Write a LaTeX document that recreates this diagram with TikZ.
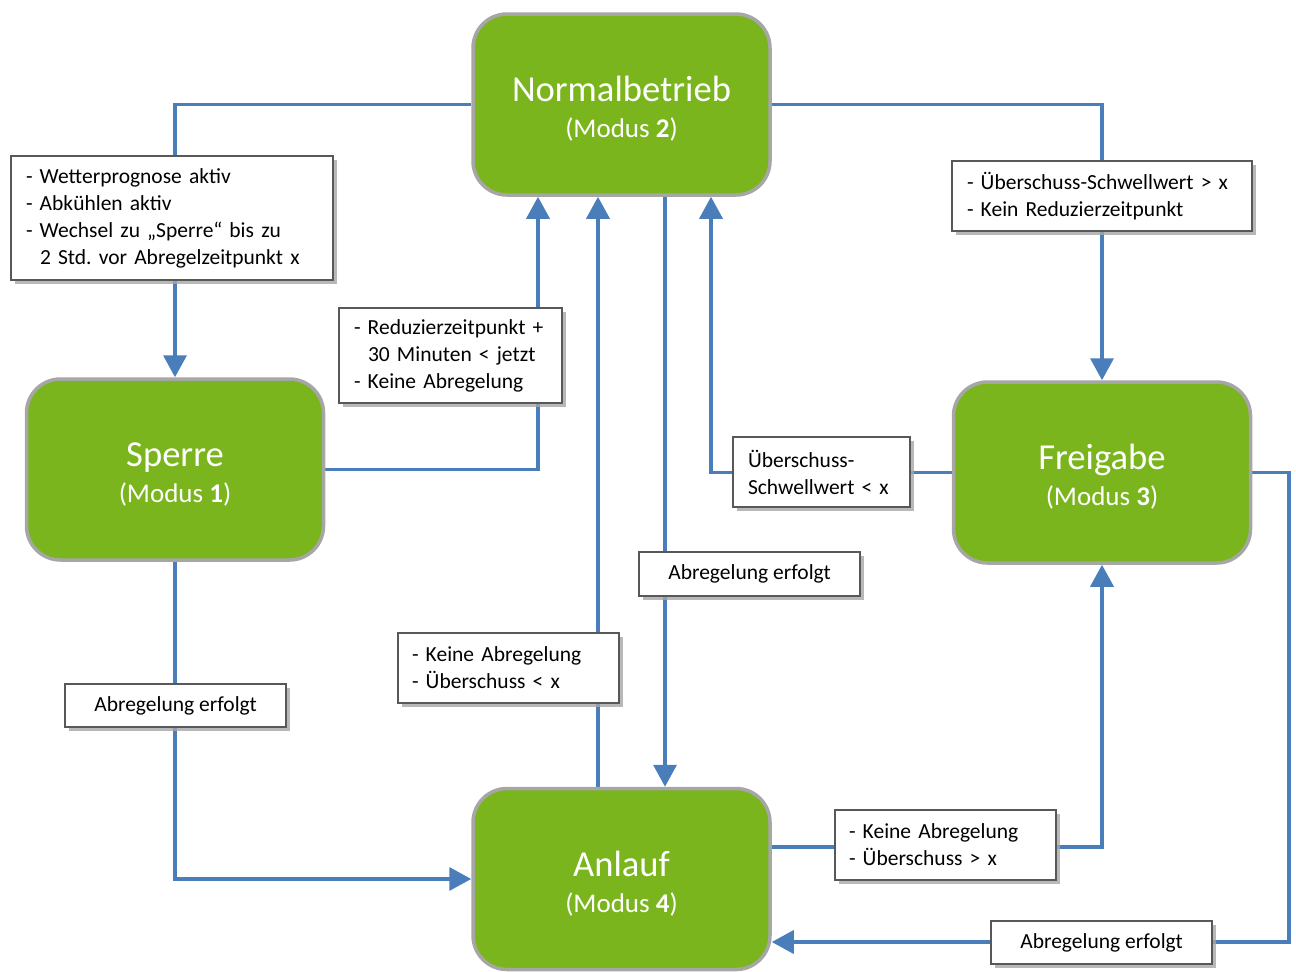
\documentclass[tikz,border=0pt]{standalone}
\usepackage{fontspec}
\setmainfont{Carlito}
\usetikzlibrary{shadows,backgrounds,arrows.meta}
\definecolor{boxgreen}{HTML}{7AB51D}
\definecolor{boxgray}{HTML}{A6A6A6}
\definecolor{lblborder}{HTML}{55595A}
\definecolor{conblue}{HTML}{4A7EBB}
\newcommand{\ttl}[1]{{\fontsize{36.6}{35}\selectfont\rule{0pt}{34pt}#1}}
\tikzset{
  state/.style={draw=boxgray, line width=3.5pt, fill=boxgreen, rounded corners=34pt,
    minimum width=297pt, minimum height=181pt, text=white, align=center, inner sep=0pt,
    font=\fontsize{27}{36}\selectfont},
  lbl/.style={draw=lblborder, line width=2pt, fill=white, inner sep=0pt,
    font=\fontsize{21.5}{27}\selectfont,
    drop shadow={shadow xshift=3.5pt, shadow yshift=-3.5pt, fill=black!35, opacity=0.8}},
  lbll/.style={lbl, align=left},
  lblc/.style={lbl, align=center},
  con/.style={draw=conblue, line width=3.6pt},
  arr/.style={con, -{Triangle[length=22pt,width=23pt]}},
}
\begin{document}
\frenchspacing
\begin{tikzpicture}[x=1pt,y=-1pt]
\useasboundingbox (0,0) rectangle (1296,972);
% state boxes
\node[state] (N) at (621.5,104.5) {\ttl{Normalbetrieb}\\(Modus \textbf{2})};
\node[state] (S) at (175,469.5) {\ttl{Sperre}\\(Modus \textbf{1})};
\node[state] (F) at (1102,472.5) {\ttl{Freigabe}\\(Modus \textbf{3})};
\node[state] (A) at (621.5,879) {\ttl{Anlauf}\\(Modus \textbf{4})};
% labels
\node[lbll, minimum width=322pt, minimum height=124pt, text width=292pt] (L1) at (172,218)
  {- Wetterprognose aktiv\\- Abkühlen aktiv\\- Wechsel zu „Sperre“ bis zu\\\hspace*{14pt}2 Std. vor Abregelzeitpunkt x};
\node[lbll, minimum width=223pt, minimum height=95pt, text width=193pt] (L2) at (450.5,355.5)
  {- Reduzierzeitpunkt +\\\hspace*{14pt}30 Minuten < jetzt\\- Keine Abregelung};
\node[lbll, minimum width=177pt, minimum height=70pt, text width=147pt] (L3) at (821.5,472)
  {Überschuss-\\Schwellwert < x};
\node[lbll, minimum width=300pt, minimum height=70pt, text width=270pt] (L4) at (1102,196)
  {- Überschuss-Schwellwert > x\\- Kein Reduzierzeitpunkt};
\node[lblc, minimum width=221pt, minimum height=44pt] (L5) at (749.5,574) {Abregelung erfolgt};
\node[lbll, minimum width=221pt, minimum height=70pt, text width=193pt] (L6) at (508.5,668)
  {- Keine Abregelung\\- Überschuss < x};
\node[lblc, minimum width=221pt, minimum height=43pt] (L7) at (175.5,705.5) {Abregelung erfolgt};
\node[lbll, minimum width=221pt, minimum height=70pt, text width=193pt] (L8) at (945.5,845)
  {- Keine Abregelung\\- Überschuss > x};
\node[lblc, minimum width=221pt, minimum height=43pt] (L9) at (1101.5,942.5) {Abregelung erfolgt};
% connectors
\begin{pgfonlayer}{background}
\draw[arr] (N.west) -| (S.north);
\draw[arr] (S.east) -| ([xshift=-83.5pt]N.south);
\draw[arr] ([xshift=-23.5pt]A.north) -- ([xshift=-23.5pt]N.south);
\draw[arr] ([xshift=43.5pt]N.south) -- ([xshift=43.5pt]A.north);
\draw[arr] (F.west) -| ([xshift=89.5pt]N.south);
\draw[arr] (N.east) -| (F.north);
\draw[arr] (S.south) |- (A.west);
\draw[arr] ([yshift=32pt]A.east) -| (F.south);
\draw[arr] (F.east) -- ++(37,0) |- ([yshift=-63pt]A.east);
\end{pgfonlayer}
\end{tikzpicture}
\end{document}
